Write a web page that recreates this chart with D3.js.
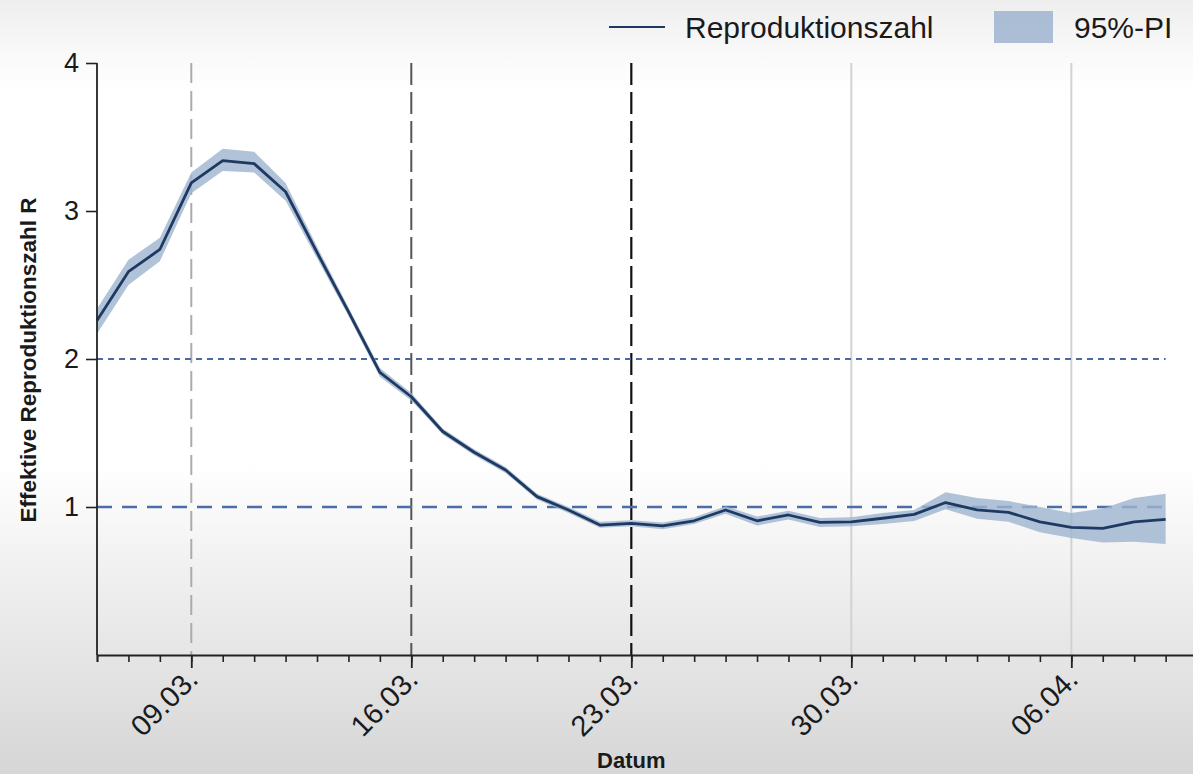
<!DOCTYPE html>
<html><head><meta charset="utf-8">
<script src="https://cdn.jsdelivr.net/npm/d3@7"></script>
<style>
html,body{margin:0;padding:0;}
body{width:1193px;height:774px;overflow:hidden;background:#fff;}
</style></head>
<body><svg id="chart" width="1193" height="774"></svg>
<script>
const dates = ["2020-03-06","2020-03-07","2020-03-08","2020-03-09","2020-03-10","2020-03-11","2020-03-12","2020-03-13","2020-03-14","2020-03-15","2020-03-16","2020-03-17","2020-03-18","2020-03-19","2020-03-20","2020-03-21","2020-03-22","2020-03-23","2020-03-24","2020-03-25","2020-03-26","2020-03-27","2020-03-28","2020-03-29","2020-03-30","2020-03-31","2020-04-01","2020-04-02","2020-04-03","2020-04-04","2020-04-05","2020-04-06","2020-04-07","2020-04-08","2020-04-09"];
const rValues = [2.26,2.59,2.74,3.19,3.34,3.32,3.13,2.72,2.32,1.91,1.745,1.51,1.37,1.25,1.07,0.98,0.878,0.89,0.872,0.907,0.98,0.907,0.946,0.896,0.90,0.924,0.95,1.03,0.98,0.964,0.90,0.863,0.856,0.90,0.917];
const piLower = [2.17,2.50,2.66,3.12,3.27,3.26,3.07,2.68,2.29,1.88,1.72,1.49,1.35,1.23,1.05,0.96,0.86,0.87,0.85,0.885,0.955,0.875,0.915,0.865,0.87,0.885,0.905,0.985,0.92,0.90,0.83,0.79,0.76,0.765,0.75];
const piUpper = [2.34,2.67,2.82,3.26,3.42,3.40,3.19,2.76,2.35,1.94,1.77,1.53,1.39,1.27,1.09,1.00,0.90,0.91,0.895,0.93,1.005,0.935,0.975,0.925,0.93,0.96,0.98,1.10,1.06,1.04,1.00,0.96,0.99,1.06,1.09];
const yTicks = [1,2,3,4];
const xTickDates = ["2020-03-09","2020-03-16","2020-03-23","2020-03-30","2020-04-06"];
const xTickLabels = ["09.03.","16.03.","23.03.","30.03.","06.04."];
const refLevels = [2,1];
const legendLabels = ["Reproduktionszahl","95%-PI"];
const yTitle = "Effektive Reproduktionszahl R";
const xTitle = "Datum";

const parse = d3.utcParse("%Y-%m-%d");
const data = dates.map((d,i)=>({date:parse(d), r:rValues[i], lo:piLower[i], hi:piUpper[i]}));

const svg = d3.select("#chart");
const W = 1193, H = 774;
const m = {left:97, top:63, bottom:655};
const FONT = "Liberation Sans, Arial, sans-serif";

// background gradient
const defs = svg.append("defs");
const g = defs.append("linearGradient").attr("id","bg").attr("x1",0).attr("y1",0).attr("x2",0).attr("y2",1);
[[0,"#eeeeee"],[0.07,"#f9f9f9"],[0.12,"#ffffff"],[0.6,"#ffffff"],[0.75,"#efefef"],[1,"#d6d6d6"]].forEach(s=>g.append("stop").attr("offset",s[0]).attr("stop-color",s[1]));
svg.append("rect").attr("width",W).attr("height",H).attr("fill","url(#bg)");

const x = d3.scaleUtc().domain([parse("2020-03-06"), parse("2020-04-10")]).range([m.left, m.left + 35*31.43]);
const y = d3.scaleLinear().domain([0,4]).range([m.bottom, m.top]);

// vertical reference lines
const vStyles = [
  {c:"#ababab", dash:"20,8", w:2},
  {c:"#555555", dash:"22,7", w:2},
  {c:"#111111", dash:"22,7", w:2.2},
  {c:"#d2d2d2", dash:null, w:2},
  {c:"#d2d2d2", dash:null, w:2}
];
xTickDates.forEach((d,i)=>{
  const xx = x(parse(d));
  const l = svg.append("line").attr("x1",xx).attr("x2",xx).attr("y1",y(4)).attr("y2",y(0))
    .attr("stroke",vStyles[i].c).attr("stroke-width",vStyles[i].w);
  if (vStyles[i].dash) l.attr("stroke-dasharray",vStyles[i].dash);
});

// horizontal reference lines
const xEnd = x(parse("2020-04-09"));
svg.append("line").attr("x1",m.left).attr("x2",xEnd).attr("y1",y(refLevels[0])).attr("y2",y(refLevels[0]))
  .attr("stroke","#4a6aa0").attr("stroke-width",2).attr("stroke-dasharray","6,5");
svg.append("line").attr("x1",m.left).attr("x2",xEnd).attr("y1",y(refLevels[1])).attr("y2",y(refLevels[1]))
  .attr("stroke","#4a6fa8").attr("stroke-width",2.5).attr("stroke-dasharray","15,10");

// band
svg.append("path").datum(data)
  .attr("d", d3.area().x(d=>x(d.date)).y0(d=>y(d.lo)).y1(d=>y(d.hi)))
  .attr("fill","#9db4cf").attr("fill-opacity",0.8);
// line
svg.append("path").datum(data)
  .attr("d", d3.line().x(d=>x(d.date)).y(d=>y(d.r)))
  .attr("fill","none").attr("stroke","#1f3a62").attr("stroke-width",2.8).attr("stroke-linejoin","round");

// y axis
const yAxis = svg.append("g").attr("transform",`translate(${m.left},0)`)
  .call(d3.axisLeft(y).tickValues(yTicks).tickSize(11).tickPadding(7).tickFormat(d3.format("d")));
yAxis.select(".domain").attr("stroke","#222").attr("stroke-width",1.8).attr("d",`M0,${y(4)}V${y(0)}`);
yAxis.selectAll(".tick line").attr("stroke","#222").attr("stroke-width",1.6);
yAxis.selectAll(".tick text").attr("font-family",FONT).attr("font-size",27).attr("fill","#1a1a1a");

// x axis minor ticks (daily)
const xAxisG = svg.append("g").attr("transform",`translate(0,${m.bottom})`);
xAxisG.call(d3.axisBottom(x).ticks(d3.utcDay.every(1)).tickSize(7).tickFormat(""));
xAxisG.select(".domain").attr("stroke","#222").attr("stroke-width",1.8);
xAxisG.selectAll(".tick line").attr("stroke","#222").attr("stroke-width",1.6);
// major ticks
const xMajor = svg.append("g").attr("transform",`translate(0,${m.bottom})`)
  .call(d3.axisBottom(x).tickValues(xTickDates.map(parse)).tickSize(13).tickFormat((d,i)=>xTickLabels[i]));
xMajor.select(".domain").remove();
xMajor.selectAll(".tick line").attr("stroke","#222").attr("stroke-width",1.8);
xMajor.selectAll(".tick text")
  .attr("font-family",FONT).attr("font-size",29).attr("fill","#1a1a1a")
  .attr("text-anchor","end").attr("dy",0).attr("y",0)
  .attr("transform","translate(8,26) rotate(-45)");

// axis titles
svg.append("text").attr("transform",`translate(36,360) rotate(-90)`)
  .attr("text-anchor","middle").attr("font-family",FONT).attr("font-weight","bold")
  .attr("font-size",22.5).attr("fill","#1a1a1a").text(yTitle);
svg.append("text").attr("x",x(parse("2020-03-23"))).attr("y",768)
  .attr("text-anchor","middle").attr("font-family",FONT).attr("font-weight","bold")
  .attr("font-size",22).attr("fill","#1a1a1a").text(xTitle);

// legend
const lg = svg.append("g");
lg.append("line").attr("x1",609).attr("x2",665).attr("y1",27).attr("y2",27).attr("stroke","#1f3a62").attr("stroke-width",2.2);
lg.append("text").attr("x",685).attr("y",38).attr("font-family",FONT).attr("font-size",30).attr("fill","#1a1a1a").text(legendLabels[0]);
lg.append("rect").attr("x",994).attr("y",11).attr("width",59).attr("height",32).attr("fill","#9db4cf").attr("fill-opacity",0.85);
lg.append("text").attr("x",1074).attr("y",38).attr("font-family",FONT).attr("font-size",30).attr("fill","#1a1a1a").text(legendLabels[1]);
</script></body></html>
